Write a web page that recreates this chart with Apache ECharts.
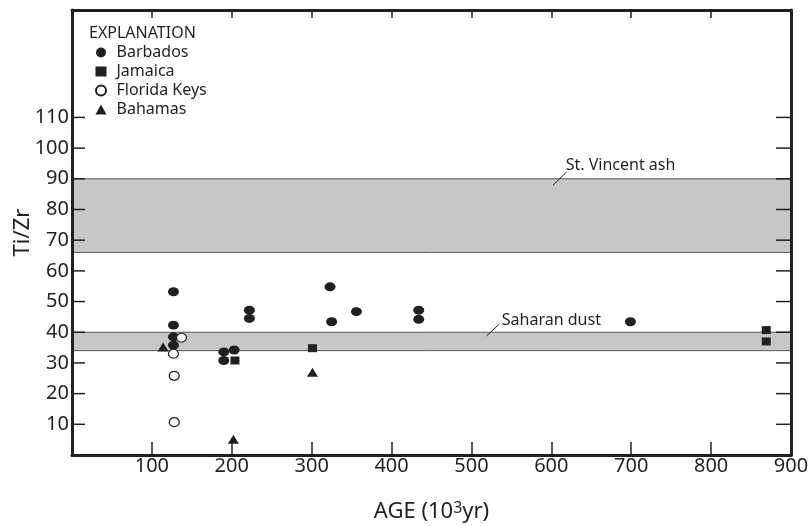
<!DOCTYPE html>
<html lang="en" style="height: 100%">
<head>
  <meta charset="utf-8">
</head>
<body style="height: 100%; margin: 0">
  <div id="container" style="width: 809px; height: 526px"></div>

  <script type="text/javascript" src="https://fastly.jsdelivr.net/npm/echarts@6/dist/echarts.min.js"></script>
  <script type="text/javascript">
    // data: [age (10^3 yr), Ti/Zr]
    var barbados = [[127, 53.2], [127, 42.3], [127, 38.5], [127, 35.8], [190, 33.6], [190, 30.8],
                    [203, 34.2], [222, 47.2], [222, 44.5], [323, 54.8], [325, 43.4], [356, 46.7],
                    [434, 47.2], [434, 44.2], [699, 43.4]];
    var jamaica = [[204, 30.8], [301, 34.8], [869, 40.7], [869, 37.0]];
    var floridaKeys = [[137, 38.2], [127, 33.0], [128, 25.8], [128, 10.7]];
    var bahamas = [[114, 35.2], [202, 5.1], [301, 27.0]];

    // shaded ranges
    var bandNames = ['St. Vincent ash', 'Saharan dust'];
    var bandFrom = [66, 34];
    var bandTo = [90, 40];
    // label leader lines, in data units
    var noteLine = [[[602, 87.9], [619, 92.2]], [[519, 38.8], [535, 42.7]]];
    var noteText = [[618, 94.5], [538, 44]];

    var xTicks = [100, 200, 300, 400, 500, 600, 700, 800, 900];
    var yTicks = [10, 20, 30, 40, 50, 60, 70, 80, 90, 100, 110];

    var ink = '#231f20';
    var font = 'Noto Sans';

    var dom = document.getElementById('container');
    var myChart = echarts.init(dom, null, { renderer: 'canvas' });

    var bandData = bandNames.map(function (n, i) {
      return [{ yAxis: bandFrom[i] }, { yAxis: bandTo[i] }];
    });

    function onlyTicks(list) {
      return function (v) { return list.indexOf(v) >= 0 ? String(v) : ''; };
    }

    var option = {
      animation: false,
      backgroundColor: '#fff',
      textStyle: { fontFamily: font, color: ink },
      title: {
        text: 'EXPLANATION',
        left: 84,
        top: 20,
        textStyle: { fontFamily: font, fontSize: 16, fontWeight: 'normal', color: ink }
      },
      legend: {
        data: ['Barbados', 'Jamaica', 'Florida Keys', 'Bahamas'],
        orient: 'vertical',
        left: 90,
        top: 39,
        itemWidth: 11,
        itemHeight: 10,
        itemGap: 2,
        textStyle: { fontFamily: font, fontSize: 16, color: ink, lineHeight: 17, padding: [0, 0, 0, 5] }
      },
      grid: { left: 72, right: 18, top: 10, bottom: 71, outerBoundsMode: 'none' },
      xAxis: [
        {
          type: 'value', position: 'bottom', min: 0, max: 900, interval: 100, z: 5,
          axisLine: { show: true, onZero: false, lineStyle: { color: ink, width: 3 } },
          axisTick: { show: true, inside: true, length: 13, lineStyle: { color: ink, width: 1.5 } },
          axisLabel: { formatter: onlyTicks(xTicks), fontSize: 20, color: ink, fontFamily: font, margin: 1 },
          splitLine: { show: false },
          name: 'AGE (10{sup|3}yr)',
          nameLocation: 'middle',
          nameGap: 45,
          nameMoveOverlap: false,
          nameTextStyle: {
            fontSize: 22, color: ink, fontFamily: font,
            rich: { sup: { fontSize: 16, verticalAlign: 'top', padding: [0, 0, 8, 0], color: ink, fontFamily: font } }
          }
        },
        {
          type: 'value', position: 'top', min: 0, max: 900, interval: 100, z: 5,
          axisLine: { show: true, onZero: false, lineStyle: { color: ink, width: 3 } },
          axisTick: { show: true, inside: true, length: 8, lineStyle: { color: ink, width: 1.5 } },
          axisLabel: { show: false },
          splitLine: { show: false }
        }
      ],
      yAxis: [
        {
          type: 'value', position: 'left', min: 0, max: 145, interval: 10, z: 5,
          axisLine: { show: true, onZero: false, lineStyle: { color: ink, width: 3 } },
          axisTick: { show: false },
          axisLabel: { formatter: onlyTicks(yTicks), fontSize: 20, color: ink, fontFamily: font, margin: 3 },
          splitLine: { show: false },
          name: 'Ti/Zr',
          nameLocation: 'middle',
          nameGap: 38,
          nameMoveOverlap: false,
          nameTextStyle: { fontSize: 22, color: ink, fontFamily: font }
        },
        {
          type: 'value', position: 'right', min: 0, max: 145, interval: 10, z: 5,
          axisLine: { show: true, onZero: false, lineStyle: { color: ink, width: 3 } },
          axisTick: { show: false },
          axisLabel: { show: false },
          splitLine: { show: false }
        }
      ],
      series: [
        {
          name: 'bands',
          type: 'scatter',
          data: [],
          silent: true,
          markArea: {
            silent: true,
            itemStyle: { color: '#c6c7c9', borderColor: '#58595b', borderWidth: 1 },
            data: bandData
          }
        },
        {
          name: 'Barbados', type: 'scatter', z: 3,
          symbol: 'circle', symbolSize: [11, 9],
          itemStyle: { color: ink, opacity: 1 },
          data: barbados
        },
        {
          name: 'Jamaica', type: 'scatter', z: 3,
          symbol: 'rect', symbolSize: [9, 8],
          itemStyle: { color: ink, opacity: 1 },
          data: jamaica
        },
        {
          name: 'Florida Keys', type: 'scatter', z: 3,
          symbol: 'circle', symbolSize: [10, 9],
          itemStyle: { color: '#fff', borderColor: ink, borderWidth: 1.2, opacity: 1 },
          data: floridaKeys
        },
        {
          name: 'Bahamas', type: 'scatter', z: 3,
          symbol: 'triangle', symbolSize: [11, 9],
          itemStyle: { color: ink, opacity: 1 },
          data: bahamas
        }
      ]
    };

    myChart.setOption(option);

    // y ticks only from 10 to 110 on both sides, plus band labels with leader lines
    function placeNotes() {
      var els = [];
      var px = function (p) { return myChart.convertToPixel({ xAxisIndex: 0, yAxisIndex: 0 }, p); };
      yTicks.forEach(function (v) {
        var l = px([0, v]);
        var r = px([900, v]);
        els.push({ type: 'line', z: 10, shape: { x1: l[0], y1: l[1], x2: l[0] + 13, y2: l[1] }, style: { stroke: ink, lineWidth: 1.5 } });
        els.push({ type: 'line', z: 10, shape: { x1: r[0] - 15, y1: r[1], x2: r[0], y2: r[1] }, style: { stroke: ink, lineWidth: 1.5 } });
      });
      noteLine.forEach(function (seg, i) {
        var a = px(seg[0]);
        var b = px(seg[1]);
        var t = px(noteText[i]);
        els.push({
          type: 'line', z: 10,
          shape: { x1: a[0], y1: a[1], x2: b[0], y2: b[1] },
          style: { stroke: ink, lineWidth: 1 }
        });
        els.push({
          type: 'text', z: 10, x: t[0], y: t[1],
          style: { text: bandNames[i], fill: ink, font: '16px "Noto Sans"', textVerticalAlign: 'middle', textAlign: 'left' }
        });
      });
      myChart.setOption({ graphic: els });
    }
    placeNotes();
  </script>
</body>
</html>
